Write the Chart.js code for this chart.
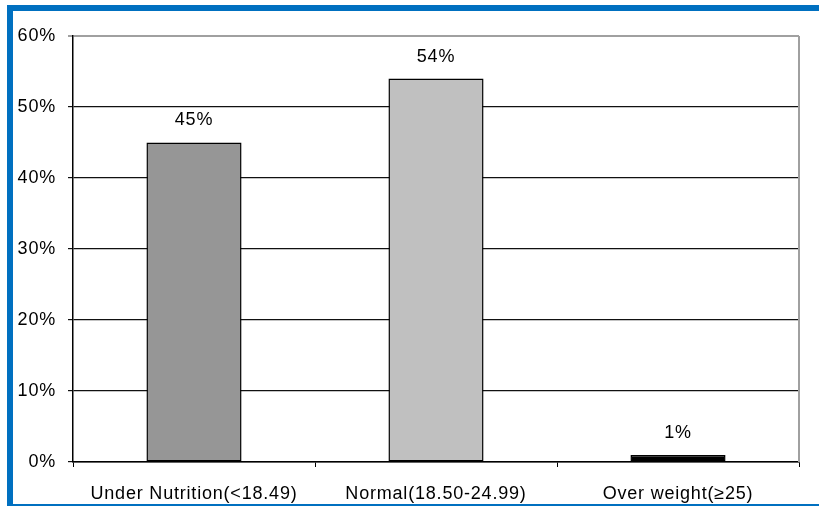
<!DOCTYPE html>
<html>
<head>
<meta charset="utf-8">
<style>
  html, body { margin: 0; padding: 0; background: #ffffff; overflow: hidden; }
  #wrap { position: relative; width: 819px; height: 506px; overflow: hidden; }
  #frame { position: absolute; left: 7px; top: 5px; width: 830px; height: 505px;
           border: 6px solid #0070c0; box-sizing: border-box; pointer-events: none; }
  canvas { position: absolute; left: 0; top: 0; }
</style>
<script src="https://cdn.jsdelivr.net/npm/chart.js"></script>
</head>
<body>
<div id="wrap">
  <canvas id="bmiChart" width="819" height="506"></canvas>
  <div id="frame"></div>
</div>
<script>
const categories = ['Under Nutrition(<18.49)', 'Normal(18.50-24.99)', 'Over weight(\u226525)'];
const shares = [45, 54, 1];
const barColors = ['#969696', '#c0c0c0', '#000000'];
const yTicks = [0, 10, 20, 30, 40, 50, 60];

const labelFont = { family: 'Liberation Sans, Arial, sans-serif', size: 18 };

// wider spacing like the old bitmap font
const spacing = {
  id: 'spacing',
  beforeLayout(chart) { chart.ctx.letterSpacing = '0.8px'; },
  beforeDraw(chart) { chart.ctx.letterSpacing = '0.8px'; }
};

// value labels above bars
const valueLabels = {
  id: 'valueLabels',
  afterDatasetsDraw(chart) {
    const ctx = chart.ctx;
    const meta = chart.getDatasetMeta(0);
    ctx.save();
    ctx.font = '18px "Liberation Sans", Arial, sans-serif';
    ctx.fillStyle = '#000';
    ctx.textAlign = 'center';
    ctx.textBaseline = 'bottom';
    meta.data.forEach((bar, i) => {
      ctx.fillText(shares[i] + '%', bar.x, bar.y - 13);
    });
    ctx.restore();
  }
};

// grey right edge of plot area
const plotEdge = {
  id: 'plotEdge',
  beforeDatasetsDraw(chart) {
    const a = chart.chartArea;
    const ctx = chart.ctx;
    ctx.save();
    ctx.strokeStyle = '#a0a0a0';
    ctx.lineWidth = 2;
    ctx.beginPath();
    ctx.moveTo(a.right, a.top);
    ctx.lineTo(a.right, a.bottom);
    ctx.stroke();
    ctx.restore();
  }
};

new Chart(document.getElementById('bmiChart').getContext('2d'), {
  type: 'bar',
  data: {
    labels: categories,
    datasets: [{
      data: shares,
      backgroundColor: barColors,
      borderColor: '#000000',
      borderWidth: 1.5,
      borderSkipped: false,
      categoryPercentage: 1,
      barPercentage: 0.393
    }]
  },
  options: {
    responsive: false,
    animation: false,
    layout: { padding: { left: 0, top: 36, right: 20, bottom: 0 } },
    plugins: { legend: { display: false }, tooltip: { enabled: false } },
    scales: {
      x: {
        offset: true,
        grid: { display: true, drawOnChartArea: false, tickLength: 5, color: '#000', offset: true },
        border: { color: '#000', width: 1.5 },
        ticks: { color: '#000', font: labelFont, padding: 16, maxRotation: 0, autoSkip: false },
        afterFit(scale) { scale.height = 44; }
      },
      y: {
        min: 0, max: 60,
        afterBuildTicks(scale) { scale.ticks = yTicks.map(v => ({ value: v })); },
        grid: {
          tickLength: 5,
          color: ctx => ctx.tick && ctx.tick.value === 60 ? '#a0a0a0' : '#111111',
          lineWidth: ctx => ctx.tick && ctx.tick.value === 60 ? 2 : 1.2
        },
        border: { color: '#000', width: 1.5 },
        ticks: { color: '#000', font: labelFont, padding: 12, callback: v => v + '%' },
        afterFit(scale) { scale.width = 73; }
      }
    }
  },
  plugins: [spacing, valueLabels, plotEdge]
});
</script>
</body>
</html>
